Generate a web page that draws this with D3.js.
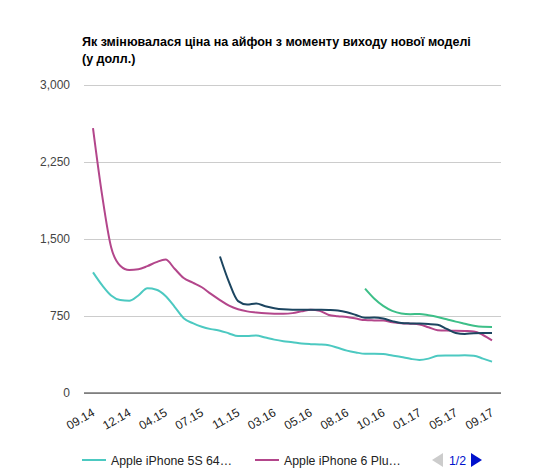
<!DOCTYPE html>
<html>
<head>
<meta charset="utf-8">
<script src="https://cdn.jsdelivr.net/npm/d3@7"></script>
<style>
  html, body { margin: 0; padding: 0; background: #fff; overflow: hidden; }
  svg { display: block; font-family: Arial, "Liberation Sans", sans-serif; }
</style>
</head>
<body>
<div id="chart"></div>
<script>
// categories (one per data point), every 4th one is shown on the axis
const categories = [
  '09.14','10.14','10.14','11.14','12.14','01.15','02.15','03.15','04.15',
  '05.15','05.15','06.15','07.15','08.15','09.15','10.15','11.15',
  '12.15','01.16','02.16','03.16','03.16','04.16','04.16','05.16',
  '06.16','06.16','07.16','08.16','08.16','09.16','09.16','10.16',
  '11.16','11.16','12.16','01.17','02.17','03.17','04.17','05.17',
  '06.17','07.17','08.17','09.17'
];

const yTicks = [0, 750, 1500, 2250, 3000];

const seriesNames = ['Apple iPhone 5S 64…', 'Apple iPhone 6 Plu…', 'Apple iPhone 6S', 'Apple iPhone 7'];
const seriesColors = ['#4cc9c1', '#b3468b', '#1c4560', '#3dbf88'];

const iphone5s = [
  1175, 1050, 950, 905, 898, 950, 1020, 1006, 945, 840, 728, 680, 645, 622, 607, 580,
  554, 555, 560, 540, 520, 505, 495, 482, 476, 473, 465, 440, 413, 395, 382, 382,
  380, 365, 350, 333, 322, 335, 362, 365, 366, 367, 363, 335, 305
];
const iphone6plus = [
  2580, 1930, 1420, 1240, 1198, 1205, 1236, 1275, 1300, 1210, 1120, 1075, 1030, 965, 905, 850,
  815, 795, 785, 777, 773, 772, 778, 795, 811, 800, 760, 748, 740, 725, 710, 707,
  705, 690, 680, 675, 668, 640, 612, 608, 607, 604, 600, 565, 512
];
const iphone6s = [
  null, null, null, null, null, null, null, null, null, null, null, null, null, null, 1330, 1080,
  895, 862, 872, 845, 826, 815, 811, 811, 811, 810, 808, 803, 787, 760, 732, 735,
  725, 700, 682, 678, 676, 672, 665, 625, 585, 575, 583, 584, 584
];
const iphone7 = [
  null, null, null, null, null, null, null, null, null, null, null, null, null, null, null, null,
  null, null, null, null, null, null, null, null, null, null, null, null, null, null, 1016, 920,
  848, 800, 775, 768, 770, 757, 740, 718, 695, 675, 655, 645, 643
];

const allSeries = [iphone5s, iphone6plus, iphone6s, iphone7];

const width = 542, height = 474;
const margin = { left: 84, right: 41, top: 85, bottom: 81 };
const innerWidth = width - margin.left - margin.right;
const innerHeight = height - margin.top - margin.bottom;

const svg = d3.select('#chart').append('svg')
  .attr('width', width)
  .attr('height', height);

// title
const title = svg.append('text')
  .attr('x', 82)
  .attr('y', 46)
  .style('font-size', '12.5px')
  .style('font-weight', 'bold')
  .attr('fill', '#000');
title.append('tspan').attr('x', 82).text('Як змінювалася ціна на айфон з моменту виходу нової моделі');
title.append('tspan').attr('x', 82).attr('dy', 17).text('(у долл.)');

const g = svg.append('g')
  .attr('transform', `translate(${margin.left},${margin.top})`);

const xScale = d3.scalePoint()
  .domain(d3.range(categories.length))
  .range([9, innerWidth - 9]);

const yScale = d3.scaleLinear()
  .domain([0, 3000])
  .range([innerHeight, 0]);

// gridlines + y labels
const yAxis = d3.axisLeft(yScale)
  .tickValues(yTicks)
  .tickFormat(d3.format(','))
  .tickSize(-innerWidth)
  .tickPadding(14);

const yAxisG = g.append('g').call(yAxis);
yAxisG.select('.domain').remove();
yAxisG.selectAll('line').attr('stroke', '#cccccc');
yAxisG.selectAll('text')
  .style('font-size', '12px')
  .attr('fill', '#444');

// baseline
g.append('line')
  .attr('x1', 0).attr('x2', innerWidth)
  .attr('y1', yScale(0)).attr('y2', yScale(0))
  .attr('stroke', '#333')
  .attr('stroke-width', 1);

// x labels
const xAxis = d3.axisBottom(xScale)
  .tickValues(d3.range(0, categories.length, 4))
  .tickFormat(i => categories[i])
  .tickSize(0)
  .tickPadding(0);

const xAxisG = g.append('g')
  .attr('transform', `translate(0,${innerHeight})`)
  .call(xAxis);
xAxisG.select('.domain').remove();
xAxisG.selectAll('text')
  .style('font-size', '12px')
  .attr('fill', '#222')
  .style('text-anchor', 'end')
  .attr('dy', 0)
  .attr('transform', 'translate(2,22) rotate(-30)');

// lines
const line = d3.line()
  .defined(d => d != null)
  .x((d, i) => xScale(i))
  .y(d => yScale(d))
  .curve(d3.curveMonotoneX);

g.selectAll('.series')
  .data(allSeries)
  .enter().append('path')
  .attr('class', 'series')
  .attr('fill', 'none')
  .attr('stroke', (d, i) => seriesColors[i])
  .attr('stroke-width', 2)
  .attr('d', line);

// legend (page 1 of 2)
const legend = svg.append('g').attr('transform', 'translate(0,460)');
const legendX = [82, 255];
[0, 1].forEach(i => {
  legend.append('line')
    .attr('x1', legendX[i]).attr('x2', legendX[i] + 24)
    .attr('y1', 0).attr('y2', 0)
    .attr('stroke', seriesColors[i])
    .attr('stroke-width', 2);
  legend.append('text')
    .attr('x', legendX[i] + 29)
    .attr('y', 4.5)
    .style('font-size', '12.3px')
    .attr('fill', '#222')
    .text(seriesNames[i]);
});

// pager
legend.append('path')
  .attr('d', 'M443,-7 L432,0 L443,7 Z')
  .attr('fill', '#cccccc');
legend.append('text')
  .attr('x', 457.5)
  .attr('y', 4.5)
  .style('font-size', '12.3px')
  .style('text-anchor', 'middle')
  .attr('fill', '#0011cc')
  .text('1/2');
legend.append('path')
  .attr('d', 'M471,-7 L482,0 L471,7 Z')
  .attr('fill', '#0011cc');
</script>
</body>
</html>
